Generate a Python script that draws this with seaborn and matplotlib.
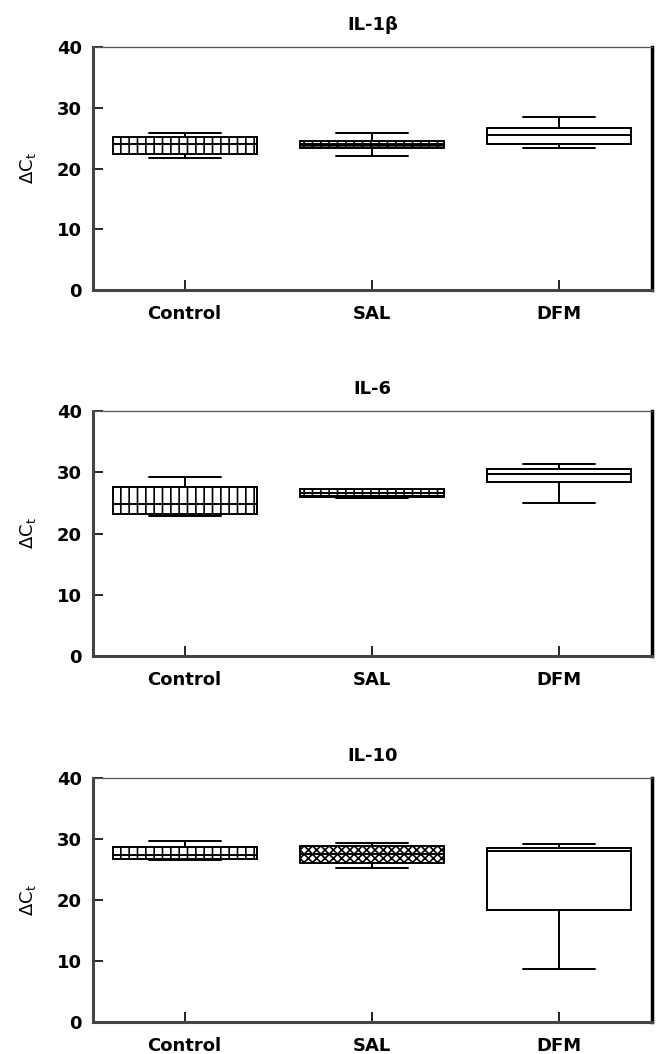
import pandas as pd
import matplotlib
matplotlib.use('Agg')
import matplotlib.pyplot as plt
import seaborn as sns

sns.set_style('ticks')
plt.rcParams['font.family'] = ['DejaVu Sans']
plt.rcParams['hatch.linewidth'] = 1.2
for k in ['text.color', 'axes.labelcolor', 'xtick.color', 'ytick.color']:
    plt.rcParams[k] = 'black'

# groups and box summaries: min, q1, median, q3, max
groups = ['Control', 'SAL', 'DFM']
titles = ['IL-1β', 'IL-6', 'IL-10']

il1b_control = [21.8, 22.4, 24.0, 25.2, 25.8]
il1b_sal = [22.1, 23.3, 24.0, 24.6, 25.9]
il1b_dfm = [23.4, 24.1, 25.5, 26.6, 28.4]

il6_control = [22.9, 23.2, 24.8, 27.6, 29.2]
il6_sal = [25.8, 26.0, 26.6, 27.2, 27.3]
il6_dfm = [24.9, 28.4, 29.7, 30.5, 31.3]

il10_control = [26.6, 26.8, 27.4, 28.7, 29.7]
il10_sal = [25.2, 26.0, 27.5, 28.9, 29.4]
il10_dfm = [8.7, 18.4, 28.1, 28.6, 29.2]

panels = [
    [il1b_control, il1b_sal, il1b_dfm],
    [il6_control, il6_sal, il6_dfm],
    [il10_control, il10_sal, il10_dfm],
]
# hatch patterns for the boxes of each panel
hatches = [
    ['||', '++', ''],
    ['||', '++', ''],
    ['||', 'xxxx', ''],
]

W, H = 656, 1054
fig = plt.figure(figsize=(W / 100, H / 100), dpi=100)
# axes boxes in pixels: top, bottom
rows = [(47, 290), (411, 656), (778, 1022)]
left, right = 93, 652

for i, (vals, (top, bot)) in enumerate(zip(panels, rows)):
    ax = fig.add_axes([left / W, 1 - bot / H, (right - left) / W, (bot - top) / H])
    df = pd.DataFrame({
        'group': [g for g, v in zip(groups, vals) for _ in v],
        'value': [x for v in vals for x in v],
    })
    sns.boxplot(data=df, x='group', y='value', order=groups, whis=(0, 100),
                width=0.77, color='white', linecolor='black', linewidth=1.4,
                showfliers=False, ax=ax)
    for p, h in zip(ax.patches, hatches[i]):
        p.set_hatch(h)
        p.set_edgecolor('black')
    ax.set_xlim(-0.49, 2.5)
    ax.set_ylim(0, 40)
    ax.set_yticks([0, 10, 20, 30, 40])
    ax.set_xlabel('')
    ax.set_ylabel('ΔC$_\\mathregular{t}$', fontsize=13)
    ax.yaxis.set_label_coords(-0.098, 0.5)
    ax.set_title(titles[i], fontsize=13, fontweight='bold', pad=12)
    ax.tick_params(axis='both', direction='in', length=7, width=1.2,
                   labelsize=13)
    ax.tick_params(axis='x', pad=11)
    ax.tick_params(axis='y', pad=8)
    for lab in ax.get_xticklabels() + ax.get_yticklabels():
        lab.set_fontweight('bold')
    for s in ['left', 'bottom']:
        ax.spines[s].set_linewidth(2.2)
        ax.spines[s].set_color('#444444')
    ax.spines['top'].set_linewidth(0.9)
    ax.spines['top'].set_color('#555555')
    ax.spines['right'].set_linewidth(2.5)
    ax.spines['right'].set_color('black')

plt.savefig('out.png', dpi=100)
